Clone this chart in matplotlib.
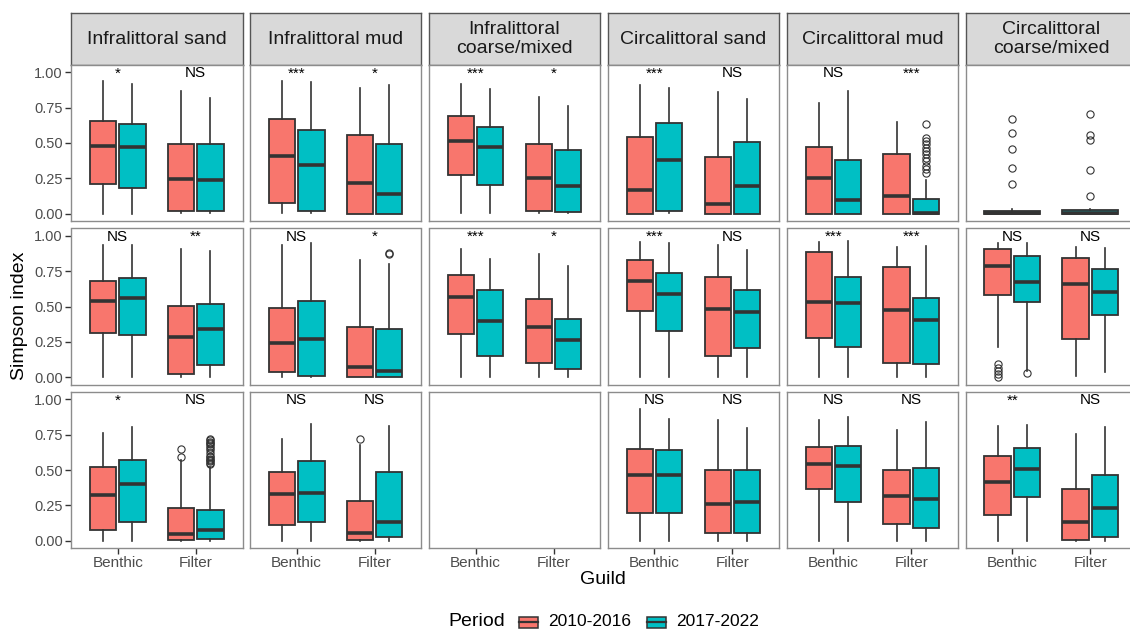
import matplotlib
matplotlib.use("Agg")
import matplotlib.pyplot as plt
from matplotlib.patches import Rectangle
from matplotlib.lines import Line2D

plt.rcParams["font.family"] = ["Liberation Sans", "DejaVu Sans"]

# ---------------------------------------------------------------- data
habitats = ["Infralittoral sand", "Infralittoral mud", "Infralittoral\ncoarse/mixed",
            "Circalittoral sand", "Circalittoral mud", "Circalittoral\ncoarse/mixed"]
guilds = ["Benthic", "Filter"]
periods = ["2010-2016", "2017-2022"]
period_colors = ["#F8766D", "#00BFC4"]

# box summaries per panel: (lower whisker, Q1, median, Q3, upper whisker)
# order inside a panel: Benthic 2010-2016, Benthic 2017-2022, Filter 2010-2016, Filter 2017-2022
row1_stats = [
    [(0.00, 0.211, 0.478, 0.653, 0.94), (0.00, 0.180, 0.473, 0.637, 0.918),
     (0.005, 0.023, 0.244, 0.496, 0.864), (0.005, 0.023, 0.239, 0.492, 0.82)],
    [(0.005, 0.075, 0.41, 0.67, 0.934), (0.005, 0.023, 0.347, 0.593, 0.93),
     (0.00, 0.00, 0.218, 0.557, 0.888), (0.00, 0.00, 0.14, 0.496, 0.911)],
    [(0.005, 0.272, 0.513, 0.689, 0.918), (0.005, 0.204, 0.473, 0.616, 0.883),
     (0.005, 0.023, 0.255, 0.494, 0.822), (0.005, 0.012, 0.194, 0.45, 0.763)],
    [(0.00, 0.00, 0.169, 0.543, 0.906), (0.005, 0.023, 0.379, 0.644, 0.89),
     (0.00, 0.00, 0.068, 0.403, 0.857), (0.00, 0.00, 0.194, 0.508, 0.808)],
    [(0.00, 0.00, 0.251, 0.475, 0.78), (0.00, 0.00, 0.096, 0.382, 0.867),
     (0.00, 0.00, 0.126, 0.422, 0.649), (0.00, 0.00, 0.004, 0.103, 0.24)],
    [None, (0.00, 0.00, 0.008, 0.02, 0.032),
     None, (0.00, 0.00, 0.006, 0.028, 0.036)],
]
row2_stats = [
    [(0.00, 0.315, 0.536, 0.682, 0.934), (0.00, 0.301, 0.562, 0.704, 0.934),
     (0.005, 0.026, 0.282, 0.504, 0.904), (0.00, 0.087, 0.344, 0.52, 0.892)],
    [(0.00, 0.04, 0.242, 0.492, 0.934), (0.005, 0.012, 0.273, 0.539, 0.946),
     (0.00, 0.00, 0.075, 0.353, 0.828), (0.00, 0.00, 0.045, 0.341, 0.802)],
    [(0.00, 0.308, 0.565, 0.722, 0.904), (0.00, 0.153, 0.398, 0.616, 0.835),
     (0.00, 0.099, 0.353, 0.553, 0.868), (0.00, 0.061, 0.261, 0.412, 0.786)],
    [(0.00, 0.468, 0.682, 0.828, 0.958), (0.00, 0.325, 0.588, 0.734, 0.946),
     (0.00, 0.153, 0.48, 0.708, 0.934), (0.00, 0.205, 0.464, 0.616, 0.899)],
    [(0.00, 0.275, 0.534, 0.882, 0.958), (0.00, 0.212, 0.522, 0.711, 0.965),
     (0.00, 0.099, 0.473, 0.776, 0.922), (0.00, 0.094, 0.407, 0.56, 0.929)],
    [(0.216, 0.584, 0.784, 0.904, 0.946), (0.047, 0.529, 0.675, 0.856, 0.946),
     (0.009, 0.268, 0.656, 0.84, 0.918), (0.035, 0.44, 0.60, 0.765, 0.911)],
]
row3_stats = [
    [(0.00, 0.078, 0.325, 0.518, 0.758), (0.00, 0.132, 0.402, 0.572, 0.80),
     (0.00, 0.005, 0.049, 0.231, 0.569), (0.00, 0.016, 0.075, 0.221, 0.52)],
    [(0.00, 0.115, 0.329, 0.489, 0.722), (0.00, 0.136, 0.341, 0.562, 0.821),
     (0.00, 0.005, 0.056, 0.282, 0.675), (0.00, 0.028, 0.132, 0.485, 0.812)],
    [None, None, None, None],
    [(0.00, 0.20, 0.468, 0.645, 0.927), (0.00, 0.20, 0.468, 0.64, 0.859),
     (0.00, 0.054, 0.259, 0.499, 0.856), (0.00, 0.054, 0.273, 0.499, 0.793)],
    [(0.00, 0.367, 0.544, 0.659, 0.856), (0.00, 0.271, 0.529, 0.666, 0.871),
     (0.00, 0.12, 0.318, 0.499, 0.781), (0.00, 0.094, 0.296, 0.515, 0.84)],
    [(0.00, 0.184, 0.414, 0.598, 0.809), (0.00, 0.311, 0.506, 0.654, 0.816),
     (0.00, 0.009, 0.136, 0.365, 0.751), (0.00, 0.028, 0.235, 0.464, 0.80)],
]
box_stats = [row1_stats, row2_stats, row3_stats]

# outlying points keyed by (row, column, box)
outliers = {
    (0, 4, 3): [0.637, 0.536, 0.515, 0.492, 0.466, 0.443, 0.419, 0.396, 0.37, 0.34, 0.314, 0.286],
    (0, 5, 1): [0.667, 0.569, 0.459, 0.326, 0.208],
    (0, 5, 3): [0.705, 0.553, 0.52, 0.307, 0.129],
    (1, 1, 3): [0.878, 0.871],
    (1, 5, 0): [0.094, 0.068, 0.045, 0.025, 0.005],
    (1, 5, 1): [0.028],
    (2, 0, 2): [0.645, 0.595],
    (2, 0, 3): [0.72, 0.71, 0.70, 0.69, 0.68, 0.67, 0.655, 0.64, 0.62, 0.60,
                0.59, 0.58, 0.57, 0.56, 0.55, 0.54],
    (2, 1, 2): [0.718],
}

# significance of the period difference within each guild
signif = [
    [("*", "NS"), ("***", "*"), ("***", "*"), ("***", "NS"), ("NS", "***"), (None, None)],
    [("NS", "**"), ("NS", "*"), ("***", "*"), ("***", "NS"), ("***", "***"), ("NS", "NS")],
    [("*", "NS"), ("NS", "NS"), (None, None), ("NS", "NS"), ("NS", "NS"), ("**", "NS")],
]
yticks = [0.0, 0.25, 0.5, 0.75, 1.0]

# ---------------------------------------------------------------- layout
W, H = 1130, 630
fig = plt.figure(figsize=(W / 100, H / 100), dpi=100)


def frac(left, top, w, h):
    return [left / W, 1 - (top + h) / H, w / W, h / H]


col_left = [71 + i * 178.9 for i in range(6)]
panel_w = 171.5
row_top = [65, 228.5, 392]
panel_h = 156
strip_top, strip_h = 13, 52

edge = "#333333"
tick_col = "#4D4D4D"
border = "#8C8C8C"

for c, name in enumerate(habitats):
    sax = fig.add_axes(frac(col_left[c], strip_top, panel_w, strip_h))
    sax.set_facecolor("#D9D9D9")
    sax.set_xticks([])
    sax.set_yticks([])
    for s in sax.spines.values():
        s.set_color("#555555")
        s.set_linewidth(1.0)
    sax.text(0.5, 0.5, name, ha="center", va="center", fontsize=14,
             color="#1A1A1A", linespacing=1.08, transform=sax.transAxes)

for r in range(3):
    for c in range(6):
        ax = fig.add_axes(frac(col_left[c], row_top[r], panel_w, panel_h))
        ax.set_xlim(0.4, 2.6)
        ax.set_ylim(-0.05, 1.05)
        for s in ax.spines.values():
            s.set_color(border)
            s.set_linewidth(1.0)

        stats = box_stats[r][c]
        present = [i for i, s in enumerate(stats) if s is not None]
        for i in present:
            g, p = divmod(i, 2)
            both = stats[2 * g] is not None and stats[2 * g + 1] is not None
            if both:
                pos, width = g + 1 + (p - 0.5) * 0.375, 0.34
            else:
                pos, width = g + 1, 0.72
            lo, q1, med, q3, hi = stats[i]
            d = dict(whislo=lo, q1=q1, med=med, q3=q3, whishi=hi,
                     fliers=outliers.get((r, c, i), []))
            ax.bxp([d], positions=[pos], widths=[width], patch_artist=True,
                   showcaps=False, manage_ticks=False,
                   boxprops=dict(facecolor=period_colors[p], edgecolor=edge, linewidth=1.3),
                   medianprops=dict(color=edge, linewidth=2.6, solid_capstyle="butt"),
                   whiskerprops=dict(color=edge, linewidth=1.2),
                   flierprops=dict(marker="o", markerfacecolor="none",
                                   markeredgecolor=edge, markersize=5.2,
                                   markeredgewidth=0.8))

        for g, lab in enumerate(signif[r][c]):
            if lab:
                ax.text(g + 1, 0.963, lab, ha="center", va="baseline",
                        fontsize=11, color="black")

        ax.set_xticks([1, 2])
        ax.set_yticks(yticks)
        ax.tick_params(axis="both", length=4, width=1, color=edge,
                       labelcolor=tick_col, labelsize=10.5, pad=2)
        ax.tick_params(axis="x", labelsize=11)
        if r == 2:
            ax.set_xticklabels(guilds)
        else:
            ax.tick_params(axis="x", length=0, labelbottom=False)
        if c == 0:
            ax.set_yticklabels([f"{v:.2f}" for v in yticks])
        else:
            ax.tick_params(axis="y", length=0, labelleft=False)

# axis titles
fig.text(20 / W, 1 - 316 / H, "Simpson index", rotation=90, ha="center",
         va="center", fontsize=14, color="black")
fig.text(603 / W, 1 - 579 / H, "Guild", ha="center", va="center",
         fontsize=14, color="black")

# legend
ly = 1 - 622 / H
fig.text(448 / W, ly, "Period", ha="left", va="center", fontsize=14)
key_x = [519, 647]
lab_x = [548, 676]
for k in range(2):
    x0 = key_x[k] / W
    kw, kh = 19 / W, 11 / H
    fig.patches.append(Rectangle((x0, ly - kh / 2), kw, kh, transform=fig.transFigure,
                                 facecolor=period_colors[k], edgecolor=edge,
                                 linewidth=1.1))
    fig.lines.append(Line2D([x0, x0 + kw], [ly, ly], transform=fig.transFigure,
                            color=edge, linewidth=1.6))
    fig.text(lab_x[k] / W, ly, periods[k], ha="left", va="center", fontsize=12.5)

fig.savefig("out.png", dpi=100)
